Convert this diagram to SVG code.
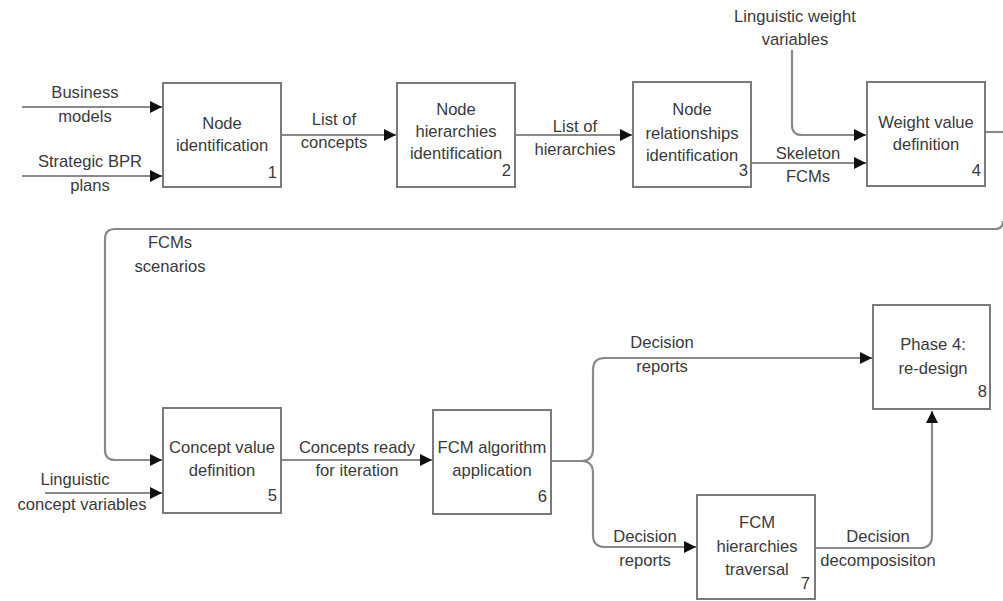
<svg xmlns="http://www.w3.org/2000/svg" width="1003" height="601" viewBox="0 0 1003 601">
<defs>
<style>
.box{fill:#fff;stroke:#7a7a7a;stroke-width:2}
.ln{fill:none;stroke:#8a8a8a;stroke-width:2.2}
.t{font-family:"Liberation Sans",Arial,sans-serif;font-size:16.6px;fill:#3a3a3a;text-anchor:middle}
.n{font-family:"Liberation Sans",Arial,sans-serif;font-size:16.6px;fill:#3a3a3a;text-anchor:end}
</style>
<marker id="ah" viewBox="0 0 12 12" refX="12" refY="6" markerWidth="12" markerHeight="12" markerUnits="userSpaceOnUse" orient="auto">
<path d="M0,0 L12,6 L0,12 Z" fill="#111"/>
</marker>
</defs>
<rect width="1003" height="601" fill="#fff"/>
<g id="connectors">
<path class="ln" d="M22 107 H162" marker-end="url(#ah)"/>
<path class="ln" d="M22 176 H162" marker-end="url(#ah)"/>
<path class="ln" d="M281 135 H396" marker-end="url(#ah)"/>
<path class="ln" d="M515 135 H632" marker-end="url(#ah)"/>
<path class="ln" d="M751 163 H866" marker-end="url(#ah)"/>
<path class="ln" d="M792 50 V125 Q792 135 802 135 H866" marker-end="url(#ah)"/>
<path class="ln" d="M985 132 H1003"/>
<path class="ln" d="M1003 221 Q1003 229 995 229 H115 Q105 229 105 239 V450 Q105 460 115 460 H162" marker-end="url(#ah)"/>
<path class="ln" d="M45 493 H162" marker-end="url(#ah)"/>
<path class="ln" d="M281 460 H432" marker-end="url(#ah)"/>
<path class="ln" d="M551 461 H581 Q593 461 593 449 V370 Q593 358 605 358 H872" marker-end="url(#ah)"/>
<path class="ln" d="M581 461 Q593 461 593 473 V535 Q593 547 605 547 H696" marker-end="url(#ah)"/>
<path class="ln" d="M815 548 H920 Q932 548 932 536 V411" marker-end="url(#ah)"/>
</g>
<g id="labels">
<text class="t" x="85" y="98">Business</text>
<text class="t" x="85" y="122">models</text>
<text class="t" x="90" y="167">Strategic BPR</text>
<text class="t" x="90" y="191">plans</text>
<text class="t" x="334" y="125">List of</text>
<text class="t" x="334" y="148">concepts</text>
<text class="t" x="575" y="132">List of</text>
<text class="t" x="575" y="155">hierarchies</text>
<text class="t" x="808" y="159">Skeleton</text>
<text class="t" x="808" y="182">FCMs</text>
<text class="t" x="795" y="22">Linguistic weight</text>
<text class="t" x="795" y="45">variables</text>
<text class="t" x="170" y="248">FCMs</text>
<text class="t" x="170" y="272">scenarios</text>
<text class="t" x="75" y="485">Linguistic</text>
<text class="t" x="82" y="510">concept variables</text>
<text class="t" x="357" y="453">Concepts ready</text>
<text class="t" x="357" y="476">for iteration</text>
<text class="t" x="662" y="348">Decision</text>
<text class="t" x="662" y="372">reports</text>
<text class="t" x="645" y="542">Decision</text>
<text class="t" x="645" y="566">reports</text>
<text class="t" x="878" y="542">Decision</text>
<text class="t" x="878" y="566">decomposisiton</text>
</g>
<g id="node1">
<rect class="box" x="163" y="83" width="118" height="104"/>
<text class="t" x="222" y="129">Node</text>
<text class="t" x="222" y="151">identification</text>
<text class="n" x="277" y="178">1</text>
</g>
<g id="node2">
<rect class="box" x="397" y="83" width="118" height="104"/>
<text class="t" x="456" y="115">Node</text>
<text class="t" x="456" y="137">hierarchies</text>
<text class="t" x="456" y="159">identification</text>
<text class="n" x="511" y="176">2</text>
</g>
<g id="node3">
<rect class="box" x="633" y="82" width="118" height="105"/>
<text class="t" x="692" y="115">Node</text>
<text class="t" x="692" y="139">relationships</text>
<text class="t" x="692" y="161">identification</text>
<text class="n" x="748" y="176">3</text>
</g>
<g id="node4">
<rect class="box" x="867" y="82" width="118" height="104"/>
<text class="t" x="926" y="128">Weight value</text>
<text class="t" x="926" y="150">definition</text>
<text class="n" x="981" y="176">4</text>
</g>
<g id="node5">
<rect class="box" x="163" y="408" width="118" height="105"/>
<text class="t" x="222" y="453">Concept value</text>
<text class="t" x="222" y="476">definition</text>
<text class="n" x="277" y="501">5</text>
</g>
<g id="node6">
<rect class="box" x="433" y="410" width="118" height="104"/>
<text class="t" x="492" y="453">FCM algorithm</text>
<text class="t" x="492" y="476">application</text>
<text class="n" x="547" y="502">6</text>
</g>
<g id="node7">
<rect class="box" x="697" y="495" width="118" height="104"/>
<text class="t" x="757" y="528">FCM</text>
<text class="t" x="757" y="552">hierarchies</text>
<text class="t" x="757" y="575">traversal</text>
<text class="n" x="810" y="589">7</text>
</g>
<g id="node8">
<rect class="box" x="873" y="305" width="117" height="104"/>
<text class="t" x="933" y="350">Phase 4:</text>
<text class="t" x="933" y="374">re-design</text>
<text class="n" x="987" y="397">8</text>
</g>
</svg>
